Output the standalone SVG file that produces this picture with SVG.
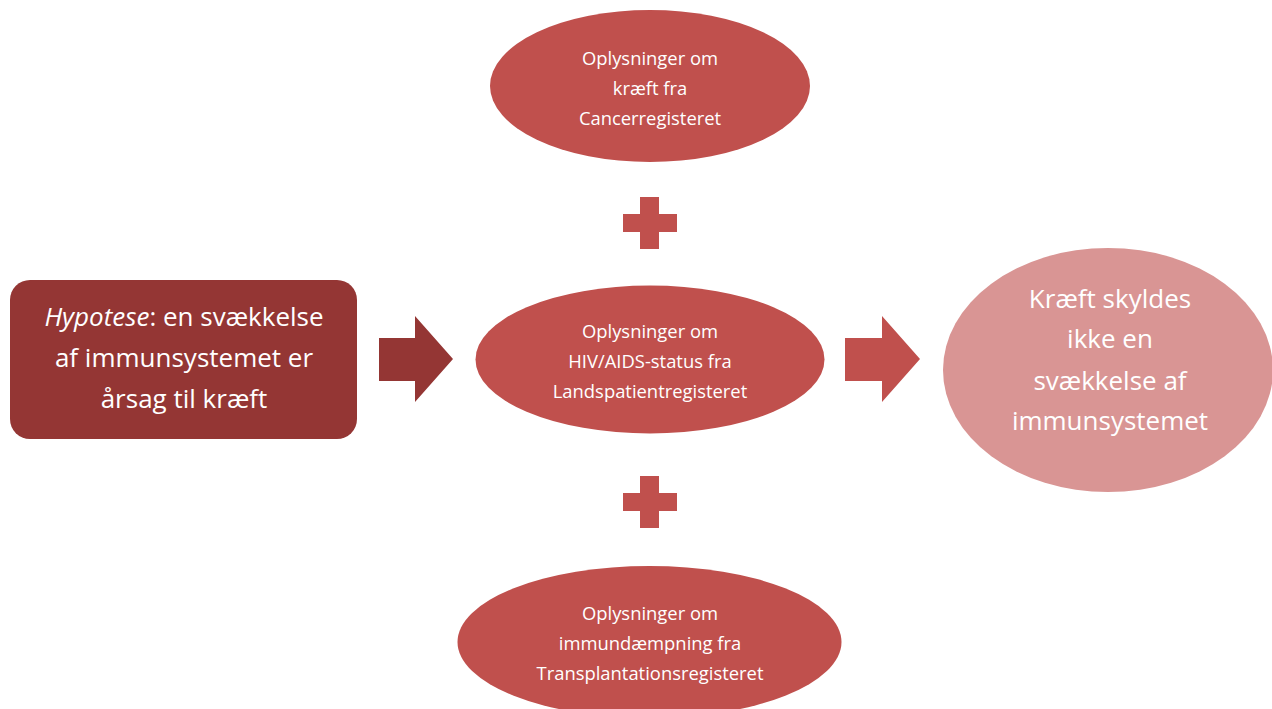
<svg xmlns="http://www.w3.org/2000/svg" width="1272" height="709" viewBox="0 0 1272 709">
<style>
.t{font-family:"Open Sans",Lato,"Liberation Sans",sans-serif;fill:#fff;text-anchor:middle;dominant-baseline:central}
.s{font-size:18.4px}
.b{font-size:26px}
.red{fill:#C0504D}
</style>
<rect width="1272" height="709" fill="#fff"/>
<g id="hypothesis">
<rect x="10" y="280" width="347" height="159" rx="20" fill="#943634"/>
<text class="t b" x="184" y="316"><tspan font-style="italic">Hypotese</tspan>: en svækkelse</text>
<text class="t b" x="184" y="357">af immunsystemet er</text>
<text class="t b" x="184" y="398">årsag til kræft</text>
</g>
<g id="cancer">
<ellipse cx="650" cy="86" rx="160" ry="76" class="red"/>
<text class="t s" x="650" y="57">Oplysninger om</text>
<text class="t s" x="650" y="87">kræft fra</text>
<text class="t s" x="650" y="117">Cancerregisteret</text>
</g>
<g id="hiv">
<ellipse cx="650" cy="359.5" rx="174.5" ry="74" class="red"/>
<text class="t s" x="650" y="330">Oplysninger om</text>
<text class="t s" x="650" y="360">HIV/AIDS-status fra</text>
<text class="t s" x="650" y="390">Landspatientregisteret</text>
</g>
<g id="transplant">
<ellipse cx="649.5" cy="642" rx="192" ry="76" class="red"/>
<text class="t s" x="650" y="612">Oplysninger om</text>
<text class="t s" x="650" y="642">immundæmpning fra</text>
<text class="t s" x="650" y="672">Transplantationsregisteret</text>
</g>
<g id="conclusion">
<ellipse cx="1108" cy="370" rx="165" ry="122" fill="#D99594"/>
<text class="t b" x="1110" y="298">Kræft skyldes</text>
<text class="t b" x="1110" y="338">ikke en</text>
<text class="t b" x="1110" y="380">svækkelse af</text>
<text class="t b" x="1110" y="420">immunsystemet</text>
</g>
<g id="connectors">
<path d="M379 338H415V316L453 359L415 402V381H379Z" fill="#943634"/>
<path d="M845 338H882V316L920 359L882 402V381H845Z" class="red"/>
<path d="M640 197H659V214H677V232H659V249H640V232H623V214H640Z" class="red"/>
<path d="M640 476H659V493H677V511H659V528H640V511H623V493H640Z" class="red"/>
</g>
</svg>
